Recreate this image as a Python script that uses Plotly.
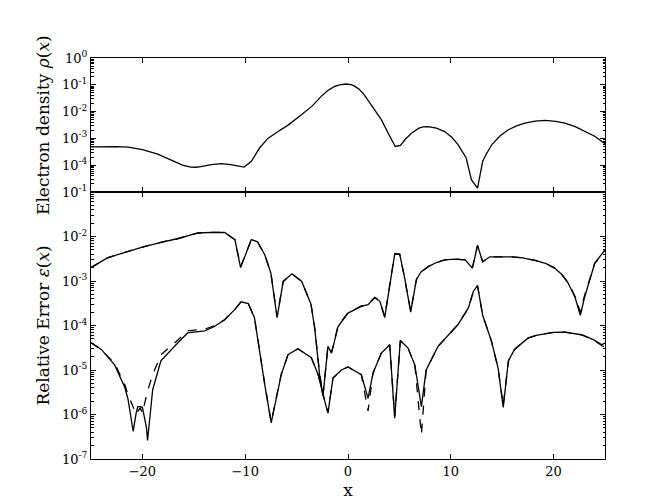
import plotly.graph_objects as go

# electron density (top panel)
rho_x = [-25, -23.4, -22.5, -21.4, -20, -18.5, -16.9, -16.1, -15.3, -14.8, -14.3, -13.3, -12.3,
         -11.4, -10.1, -9.4, -8.6, -7.8, -6.8, -5.8, -4.5, -3.5, -2.6, -2.0, -1.3, -0.8, -0.2,
         0.3, 0.6, 1.0, 1.5, 1.95, 2.6, 3.24, 3.9, 4.6, 5.1, 5.6, 6.2, 6.9, 7.3, 7.8, 8.6, 9.4,
         10.1, 10.7, 11.5, 12.0, 12.6, 13.1, 13.5, 14.0, 14.8, 15.6, 16.4, 17.2, 18.2, 19.2,
         20.2, 21.1, 22.1, 23.0, 24.0, 25]
rho = [4.8e-4, 4.9e-4, 4.9e-4, 4.7e-4, 3.8e-4, 2.6e-4, 1.4e-4, 1.0e-4, 8.5e-5, 8.4e-5, 8.9e-5,
       1.05e-4, 1.15e-4, 1.05e-4, 8.5e-5, 1.4e-4, 4.4e-4, 1.0e-3, 1.8e-3, 3.2e-3, 7.8e-3,
       1.6e-2, 3.7e-2, 6.0e-2, 8.7e-2, 1.0e-1, 1.07e-1, 1.02e-1, 9.1e-2, 7.2e-2, 4.7e-2,
       2.6e-2, 1.2e-2, 5.0e-3, 1.6e-3, 5.0e-4, 5.5e-4, 9.5e-4, 1.6e-3, 2.4e-3, 2.7e-3, 2.75e-3,
       2.4e-3, 1.8e-3, 1.1e-3, 5.9e-4, 1.86e-4, 2.9e-5, 1.4e-5, 1.4e-4, 2.8e-4, 5.9e-4, 1.25e-3,
       2.1e-3, 2.95e-3, 3.7e-3, 4.4e-3, 4.7e-3, 4.3e-3, 3.7e-3, 2.75e-3, 1.8e-3, 1.2e-3, 6.3e-4]

# relative error, upper curve
err1_x = [-25, -23.4, -22, -20, -18, -16.6, -14.6, -13.3, -12, -11.0, -10.45, -9.4, -8.8, -8.1,
          -7.5, -6.9, -6.3, -5.45, -4.5, -3.6, -3.24, -2.76, -2.43, -1.95, -1.6, -0.97, 0, 1.3,
          1.95, 2.6, 3.1, 3.57, 4.55, 5.03, 5.5, 6.1, 6.65, 7.1, 7.8, 8.6, 9.4, 10.4, 11.4, 12.1,
          12.6, 13.1, 13.8, 15.95, 17.0, 18.2, 19.2, 20.1, 20.8, 21.4, 22.1, 22.6, 23.0, 24.0, 25]
err1_solid = [2.0e-3, 3.3e-3, 4.2e-3, 5.8e-3, 7.6e-3, 8.9e-3, 1.2e-2, 1.24e-2, 1.23e-2, 8.5e-3,
              2.0e-3, 8.5e-3, 7.6e-3, 3.9e-3, 1.5e-3, 1.5e-4, 9.8e-4, 1.45e-3, 9.8e-4, 3.0e-4,
              8.7e-5, 7.8e-6, 2.6e-6, 3.4e-5, 2.4e-5, 9.5e-5, 1.9e-4, 2.7e-4, 2.95e-4, 4.2e-4,
              3.5e-4, 1.5e-4, 4.1e-3, 4.0e-3, 1.2e-3, 2.0e-4, 1.07e-3, 1.6e-3, 2.1e-3, 2.6e-3,
              3.0e-3, 3.1e-3, 3.0e-3, 1.95e-3, 6.3e-3, 2.7e-3, 3.5e-3, 3.5e-3, 3.3e-3, 2.9e-3,
              2.5e-3, 1.95e-3, 1.4e-3, 9.1e-4, 4.2e-4, 1.7e-4, 4.2e-4, 2.5e-3, 5.0e-3]
err1_dash = [2.0e-3, 3.3e-3, 4.2e-3, 5.8e-3, 7.6e-3, 8.9e-3, 1.2e-2, 1.24e-2, 1.23e-2, 8.5e-3,
             2.1e-3, 8.5e-3, 7.6e-3, 3.9e-3, 1.5e-3, 1.6e-4, 9.8e-4, 1.45e-3, 9.8e-4, 3.0e-4,
             8.9e-5, 8.2e-6, 2.8e-6, 3.4e-5, 2.5e-5, 9.7e-5, 1.95e-4, 2.75e-4, 3.0e-4, 4.3e-4,
             3.6e-4, 1.6e-4, 4.1e-3, 4.0e-3, 1.2e-3, 2.1e-4, 1.07e-3, 1.6e-3, 2.1e-3, 2.6e-3,
             3.0e-3, 3.1e-3, 3.0e-3, 2.0e-3, 6.3e-3, 2.7e-3, 3.5e-3, 3.5e-3, 3.3e-3, 2.9e-3,
             2.5e-3, 1.95e-3, 1.4e-3, 9.3e-4, 4.5e-4, 2.0e-4, 4.6e-4, 2.5e-3, 5.0e-3]

# relative error, lower curve
err2_x = [-25, -24.0, -22.7, -21.7, -21.4, -20.9, -20.6, -20.45, -20.2, -20.0, -19.6, -19.5,
          -19.0, -18.2, -16.55, -15.6, -13.95, -13.0, -12.0, -11.0, -10.4, -9.7, -9.1, -8.76,
          -8.1, -7.47, -7.1, -6.5, -5.84, -4.87, -3.57, -2.9, -2.43, -1.95, -1.46, -0.65, 0,
          1.3, 1.95, 2.43, 3.24, 4.06, 4.54, 5.09, 5.84, 6.5, 7.14, 7.6, 8.76, 10.7, 11.7, 12.2,
          12.6, 13.1, 13.96, 14.6, 15.1, 15.6, 16.2, 17.5, 18.3, 19.15, 20.0, 21.1, 22.7, 23.85,
          24.7, 25]
err2_solid = [4.1e-5, 2.9e-5, 1.3e-5, 4.0e-6, 2.2e-6, 4.2e-7, 1.1e-6, 1.5e-6, 1.5e-6, 1.45e-6,
              5.0e-7, 2.6e-7, 3.6e-6, 1.6e-5, 4.1e-5, 6.8e-5, 7.6e-5, 9.5e-5, 1.35e-4, 2.3e-4,
              3.4e-4, 3.1e-4, 1.5e-4, 4.4e-5, 4.7e-6, 6.5e-7, 1.65e-6, 7.8e-6, 2.2e-5, 3.0e-5,
              1.9e-5, 7.8e-6, 2.8e-6, 1.07e-6, 6.6e-6, 1.0e-5, 1.17e-5, 7.8e-6, 2.3e-6, 8.5e-6,
              2.4e-5, 3.7e-5, 8.3e-7, 4.6e-5, 3.1e-5, 1.3e-5, 1.5e-6, 1.0e-5, 3.4e-5, 1.05e-4,
              2.45e-4, 5.9e-4, 7.9e-4, 1.7e-4, 4.4e-5, 1.1e-5, 1.45e-6, 1.6e-5, 2.9e-5, 5.2e-5,
              6.0e-5, 6.6e-5, 7.0e-5, 7.1e-5, 6.2e-5, 4.8e-5, 3.7e-5, 4.1e-5]
err2_dash = [4.1e-5, 2.9e-5, 1.4e-5, 4.6e-6, 2.8e-6, 1.4e-6, 1.0e-6, 1.2e-6, 1.4e-6, 1.07e-6,
             2.8e-6, 3.4e-6, 7.8e-6, 2.2e-5, 4.7e-5, 7.6e-5, 8.3e-5, 9.8e-5, 1.35e-4, 2.3e-4,
             3.4e-4, 3.1e-4, 1.5e-4, 4.4e-5, 4.9e-6, 6.8e-7, 1.7e-6, 8.0e-6, 2.2e-5, 3.0e-5,
             1.9e-5, 7.8e-6, 2.9e-6, 1.1e-6, 6.6e-6, 1.0e-5, 1.17e-5, 7.8e-6, 1.2e-6, 8.5e-6,
             2.4e-5, 3.7e-5, 9.0e-7, 4.6e-5, 3.1e-5, 1.3e-5, 3.5e-7, 1.0e-5, 3.4e-5, 1.05e-4,
             2.45e-4, 5.9e-4, 7.9e-4, 1.7e-4, 4.4e-5, 1.1e-5, 1.6e-6, 1.6e-5, 2.9e-5, 5.2e-5,
             6.0e-5, 6.6e-5, 7.0e-5, 7.1e-5, 6.2e-5, 4.8e-5, 3.5e-5, 3.3e-5]

x_ticks = [-20, -10, 0, 10, 20]
x_labels = ["\u221220", "\u221210", "0", "10", "20"]
top_exps = [0, -1, -2, -3, -4]
bot_exps = [-1, -2, -3, -4, -5, -6, -7]

FONT = "DejaVu Serif"


def minor_vals(lo, hi):
    return [m * 10.0 ** k for k in range(lo, hi) for m in range(2, 10)]


def sup(e):
    return "10<sup>%d</sup>" % e


fig = go.Figure()
solid = dict(color="black", width=1.3)
dashed = dict(color="black", width=1.3, dash="dash")
fig.add_trace(go.Scatter(x=rho_x, y=rho, mode="lines", line=solid, xaxis="x", yaxis="y"))
for xs, ys in [(err1_x, err1_dash), (err2_x, err2_dash)]:
    fig.add_trace(go.Scatter(x=xs, y=ys, mode="lines", line=dashed, xaxis="x2", yaxis="y2"))
for xs, ys in [(err1_x, err1_solid), (err2_x, err2_solid)]:
    fig.add_trace(go.Scatter(x=xs, y=ys, mode="lines", line=solid, xaxis="x2", yaxis="y2"))

axis = dict(showline=True, linecolor="black", linewidth=1, mirror="ticks", ticks="inside",
            ticklen=5, tickcolor="black", showgrid=False, zeroline=False,
            tickfont=dict(family=FONT, size=13, color="black"))
minor = dict(ticks="inside", ticklen=2.5, tickcolor="black")

split = 267 / 401
fig.update_layout(
    width=664, height=502, showlegend=False,
    paper_bgcolor="white", plot_bgcolor="white",
    margin=dict(l=83, r=67, t=50, b=51),
    font=dict(family=FONT, color="black"),
    xaxis=dict(axis, domain=[0, 1], range=[-25, 25], tickvals=x_ticks, showticklabels=False,
               anchor="y"),
    xaxis2=dict(axis, domain=[0, 1], range=[-25, 25], tickvals=x_ticks, ticktext=x_labels,
                anchor="y2",
                title=dict(text="x", font=dict(family=FONT, size=17), standoff=6)),
    yaxis=dict(axis, type="log", domain=[split, 1], range=[-5, 0], anchor="x",
               tickvals=[10.0 ** e for e in top_exps], ticktext=[sup(e) for e in top_exps],
               minor=dict(minor, tickvals=minor_vals(-5, 0))),
    yaxis2=dict(axis, type="log", domain=[0, split], range=[-7, -1], anchor="x2",
                tickvals=[10.0 ** e for e in bot_exps], ticktext=[sup(e) for e in bot_exps],
                minor=dict(minor, tickvals=minor_vals(-7, -1))),
)

# y-axis titles as rotated annotations, centred on each panel
for text, yc in [("Electron density <i>\u03c1</i>(<i>x</i>)", (1 + split) / 2),
                 ("Relative Error <i>\u03b5</i>(<i>x</i>)", split / 2)]:
    fig.add_annotation(text=text, xref="paper", yref="paper", x=-48 / 514, y=yc,
                       xanchor="center", yanchor="middle", textangle=-90, showarrow=False,
                       font=dict(family=FONT, size=17, color="black"))

fig.write_html("out.html")
